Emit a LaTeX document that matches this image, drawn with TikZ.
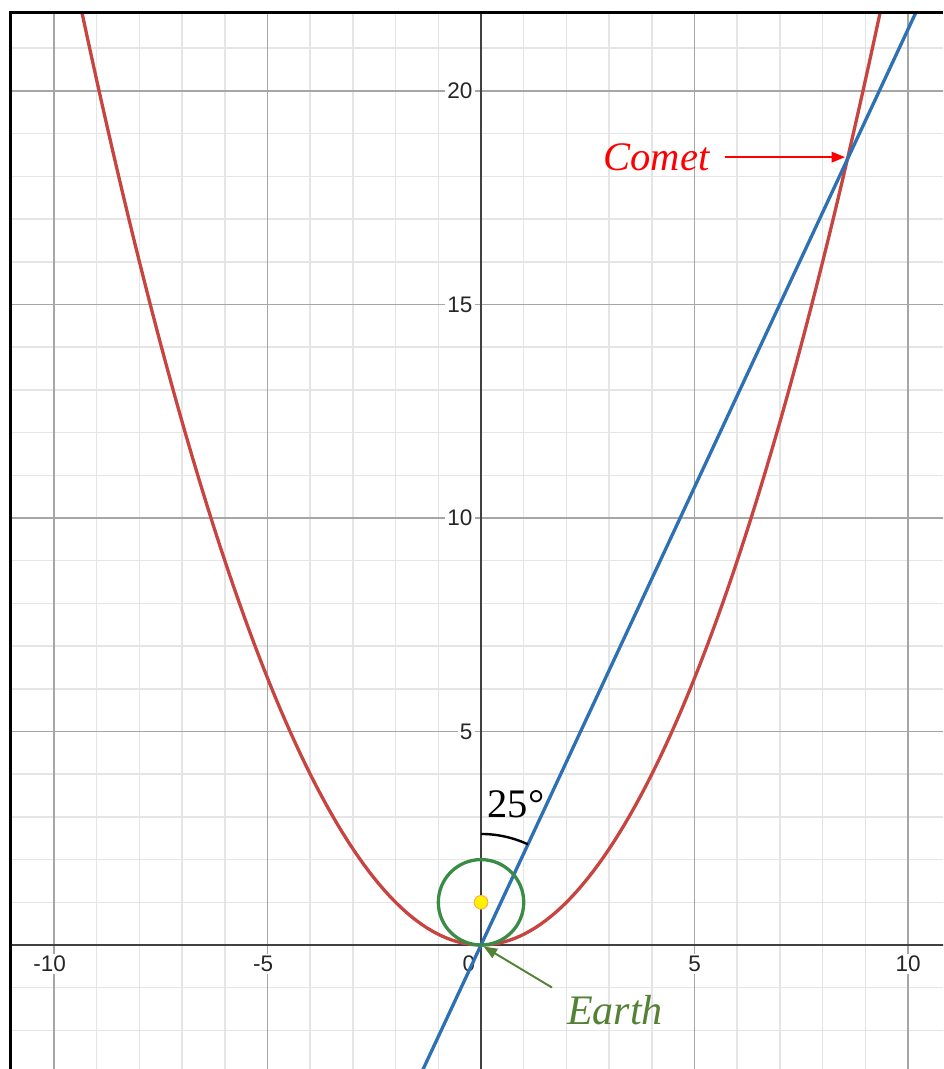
\documentclass[tikz,border=0pt]{standalone}
\usepackage{fontspec}
\setmainfont{Liberation Serif}
\newfontfamily\axisfont{Liberation Sans}
\usetikzlibrary{arrows.meta,positioning,calc}
\definecolor{parabred}{HTML}{C74440}
\definecolor{lineblue}{HTML}{2D70B3}
\definecolor{orbitgreen}{HTML}{388C46}
\definecolor{earthgreen}{HTML}{548235}

\begin{document}
\begin{tikzpicture}[
  minorgrid/.style={black!10, line width=1pt},
  majorgrid/.style={black!35, line width=1.2pt},
  axisline/.style={black!75, line width=1.3pt},
  curve/.style={line width=2.2pt},
  ticklabel/.style={font=\axisfont\fontsize{15}{17}\selectfont,
    fill=white, inner sep=1.5pt, text=black!85},
  callout/.style={font=\fontsize{27}{30}\selectfont, inner sep=2pt},
  pointer/.style={line width=1.3pt, -{Triangle[length=9pt,width=7pt]}},
]
  \useasboundingbox (-11.265,-2.904) rectangle (10.82,22.13);
  % Key points
  \coordinate (O) at (0,0);
  \coordinate (F) at (0,1);
  \coordinate (C) at (8.578,18.395);
  \begin{scope}
    \clip (-11.03,-2.904) rectangle (10.82,21.83);
    % Grid
    \draw[minorgrid] (-12,-3) grid[step=1] (11,22);
    \foreach \v in {-10,-5,5,10}
      \draw[majorgrid] (\v,-3) -- (\v,22);
    \foreach \h in {5,10,15,20}
      \draw[majorgrid] (-12,\h) -- (11,\h);
    % Tick labels
    \foreach \v/\t in {-10/-10,-5/-5}
      \node[ticklabel, anchor=north] at (\v-0.1,-0.2) {\t};
    \foreach \v in {5,10}
      \node[ticklabel, anchor=north] at (\v,-0.2) {\v};
    \node[ticklabel, anchor=north east] at (-0.08,-0.2) {0};
    \foreach \h in {5,10,15,20}
      \node[ticklabel, anchor=east] at (-0.14,\h) {\h};
    % Axes
    \draw[axisline] (-12,0) -- (11,0);
    \draw[axisline] (0,-3) -- (0,22);
    % Comet path, sight line and Earth orbit
    \draw[curve, parabred, domain=-9.7:9.7, samples=160]
      plot (\x,{\x*\x/4});
    \draw[curve, lineblue] (245:3.5) -- (65:25);
    \draw[curve, orbitgreen] (F) circle (1);
  \end{scope}
  % Frame
  \draw[black, line width=2pt] (-11.03,-2.904) -- (-11.03,21.83) -- (10.82,21.83);
  % Focus
  \node[circle, fill=yellow, draw=orange!70, line width=0.6pt,
    minimum size=0.32cm, inner sep=0pt] (sun) at (F) {};
  % Angle
  \draw[black, line width=1.6pt] (0,2.6) arc[start angle=90, end angle=65, radius=2.6];
  \node[callout] (ang) at (0.82,3.3) {25°};
  % Labels
  \node[callout, red, font=\fontsize{27}{30}\selectfont\itshape] (comet) at (4.11,18.45) {Comet};
  \draw[pointer, red, shorten >=1.5pt] ([xshift=0.28cm]comet.east) -- (comet.east -| C);
  \node[callout, earthgreen, font=\fontsize{28}{30}\selectfont\itshape] (earth) at (3.14,-1.52) {Earth};
  \draw[pointer, earthgreen, shorten >=2pt] ([shift={(-0.28,0.1)}]earth.north west) -- (O);
\end{tikzpicture}
\end{document}
